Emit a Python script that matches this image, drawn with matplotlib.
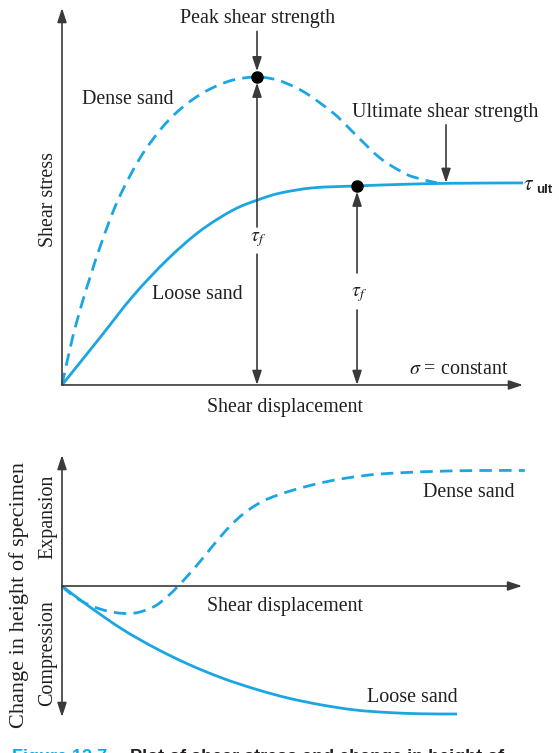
import numpy as np
import matplotlib
matplotlib.use("Agg")
import matplotlib.pyplot as plt
from matplotlib.path import Path
from matplotlib.patches import PathPatch

plt.rcParams['font.family'] = ['Liberation Serif', 'DejaVu Serif']
plt.rcParams['mathtext.fontset'] = 'stix'

# shear stress vs. shear displacement (displacement 0-100, stress 0-100)
dense_x = [0, 2.17, 4.56, 8.24, 12.15, 16.92, 21.26, 24.51, 28.2, 32.1, 37.09, 42.3,
           46.64, 50.54, 53.8, 58.79, 61.82, 63.99, 68.98, 73.32, 76.14, 81.34]
dense_tau = [0, 11.94, 22.55, 36.6, 49.07, 60.2, 67.6, 71.9, 75.6, 78.5, 80.9, 81.7,
             80.9, 79.0, 76.7, 72.2, 68.7, 66.0, 60.2, 56.8, 55.2, 53.6]
loose_x = [0, 8.2, 15.4, 22.8, 29.9, 37.1, 42.5, 47.3, 54.5, 64.0, 73.3, 84.2, 100]
loose_tau = [0, 12.5, 23.6, 33.2, 40.8, 46.4, 49.1, 50.9, 52.3, 52.8, 53.2, 53.5, 53.6]
tau_ult = 53.6
ult_x = 83.3

# change in height vs. shear displacement
dh_dense_x = [0, 2.17, 4.99, 8.24, 11.5, 14.3, 16.9, 20.2, 23.0, 25.2, 27.8, 30.4,
              32.5, 34.7, 36.9, 39.3, 42.1, 45.1, 49.5, 53.8, 58.1, 62.5, 69.0,
              79.8, 90.7, 100.4]
dh_dense = [0, -0.9, -1.7, -2.3, -2.65, -2.75, -2.6, -2.0, -1.0, 0, 1.3, 2.7,
            3.9, 5.1, 6.2, 7.2, 8.1, 8.8, 9.5, 10.05, 10.5, 10.85, 11.2,
            11.45, 11.55, 11.55]
dh_loose_x = [0, 5.6, 13.0, 20.2, 27.3, 34.7, 41.9, 49.0, 56.4, 63.6, 70.7, 78.1, 85.7]
dh_loose = [0, -1.95, -4.3, -6.2, -7.8, -9.2, -10.3, -11.2, -11.9, -12.4, -12.65,
            -12.78, -12.8]

blue = '#1ba6e3'
ink = '#231f20'
axc = '#3a3a3a'
fs = 14.4

fig = plt.figure(figsize=(5.59, 7.53), dpi=100)
ax1 = fig.add_axes([0, 1 - 430 / 753, 1, 430 / 753])
ax2 = fig.add_axes([0, 0, 1, 323 / 753])
for ax in (ax1, ax2):
    ax.axis('off')
    ax.set_xlim(-13.45, 107.81)
ax1.set_ylim(-11.94, 102.12)
ax2.set_ylim(-16.7, 15.6)

arr = dict(arrowstyle='-|>,head_length=0.85,head_width=0.28', color=axc, lw=1.2,
           shrinkA=0, shrinkB=0, mutation_scale=10)


def arrow(ax, x0, y0, x1, y1):
    ax.annotate('', xy=(x1, y1), xytext=(x0, y0), arrowprops=arr)


def curve(ax, xs, ys, **kw):
    # smooth bezier through the points (catmull-rom control points)
    p = np.column_stack([xs, ys]).astype(float)
    q = np.vstack([p[0], p, p[-1]])
    verts = [p[0]]
    codes = [Path.MOVETO]
    for k in range(1, len(q) - 2):
        c1 = q[k] + (q[k + 1] - q[k - 1]) / 6
        c2 = q[k + 1] - (q[k + 2] - q[k]) / 6
        verts += [c1, c2, q[k + 1]]
        codes += [Path.CURVE4] * 3
    ax.add_patch(PathPatch(Path(verts, codes), fill=False, edgecolor=blue, lw=2,
                           capstyle='butt', **kw))


# ---- top plot ----
arrow(ax1, 0, 0, 0, 100)
arrow(ax1, 0, 0, 100, 0)
curve(ax1, loose_x, loose_tau)
curve(ax1, dense_x, dense_tau, linestyle=(0, (4.5, 2.6)))

i = int(np.argmax(dense_tau))
px, py = dense_x[i], dense_tau[i]
qx, qy = loose_x[9], loose_tau[9]
ax1.plot([px, qx], [py, qy], 'o', color='black', ms=8, zorder=5)

# peak
arrow(ax1, px, 93.8, px, py + 1.5)
arrow(ax1, px, 41.9, px, py - 1.5)
arrow(ax1, px, 34.7, px, 0)
ax1.text(px + 0.2, 38.5, r'$\tau_f$', fontsize=fs, color=ink, ha='center', va='center')
# ultimate (loose)
arrow(ax1, qx, 29.7, qx, qy - 1.5)
arrow(ax1, qx, 19.9, qx, 0)
ax1.text(qx + 0.4, 24.1, r'$\tau_f$', fontsize=fs, color=ink, ha='center', va='center')
arrow(ax1, ult_x, 69.0, ult_x, tau_ult)

ax1.text(42.5, 97.1, 'Peak shear strength', fontsize=fs, color=ink, ha='center', va='center')
ax1.text(14.3, 75.6, 'Dense sand', fontsize=fs, color=ink, ha='center', va='center')
ax1.text(83.1, 72.4, 'Ultimate shear strength', fontsize=fs, color=ink, ha='center', va='center')
ax1.text(100.1, 52.8, r'$\tau$', fontsize=15.5, color=ink, ha='left', va='center')
ax1.text(102.8, 51.6, 'ult', fontsize=9.5, color=ink, fontweight='bold',
         family=['Liberation Sans', 'DejaVu Sans'], ha='left', va='center')
ax1.text(29.3, 24.1, 'Loose sand', fontsize=fs, color=ink, ha='center', va='center')
ax1.text(86.1, 4.2, r'$\sigma$ = constant', fontsize=fs, color=ink, ha='center', va='center')
ax1.text(48.4, -6.1, 'Shear displacement', fontsize=fs, color=ink, ha='center', va='center')
ax1.text(-3.0, 49.1, 'Shear stress', fontsize=fs, color=ink, ha='center', va='center',
         rotation=90)

# ---- bottom plot ----
arrow(ax2, 0, 0, 0, 13.1)
arrow(ax2, 0, 0, 0, -13.1)
arrow(ax2, 0, 0, 99.8, 0)
curve(ax2, dh_loose_x, dh_loose)
curve(ax2, dh_dense_x, dh_dense, linestyle=(0, (4.5, 2.6)))

ax2.text(-9.3, -0.9, 'Change in height of specimen', fontsize=16, color=ink,
         ha='center', va='center', rotation=90)
ax2.text(-3.1, 6.9, 'Expansion', fontsize=fs, color=ink, ha='center', va='center', rotation=90)
ax2.text(-3.1, -6.7, 'Compression', fontsize=fs, color=ink, ha='center', va='center', rotation=90)
ax2.text(48.4, -2.1, 'Shear displacement', fontsize=fs, color=ink, ha='center', va='center')
ax2.text(88.3, 9.3, 'Dense sand', fontsize=fs, color=ink, ha='center', va='center')
ax2.text(75.9, -11.1, 'Loose sand', fontsize=fs, color=ink, ha='center', va='center')

# caption, cut off at the lower edge
fig.text(12 / 559, 1 - 749 / 753, 'Figure 12.7', fontsize=13, color='#00aeef',
         fontweight='bold', family=['Liberation Sans', 'DejaVu Sans'], va='top', ha='left')
fig.text(130 / 559, 1 - 749 / 753, 'Plot of shear stress and change in height of',
         fontsize=13, color=ink, fontweight='bold', family=['Liberation Sans', 'DejaVu Sans'],
         va='top', ha='left')

fig.savefig('out.png', dpi=100)
